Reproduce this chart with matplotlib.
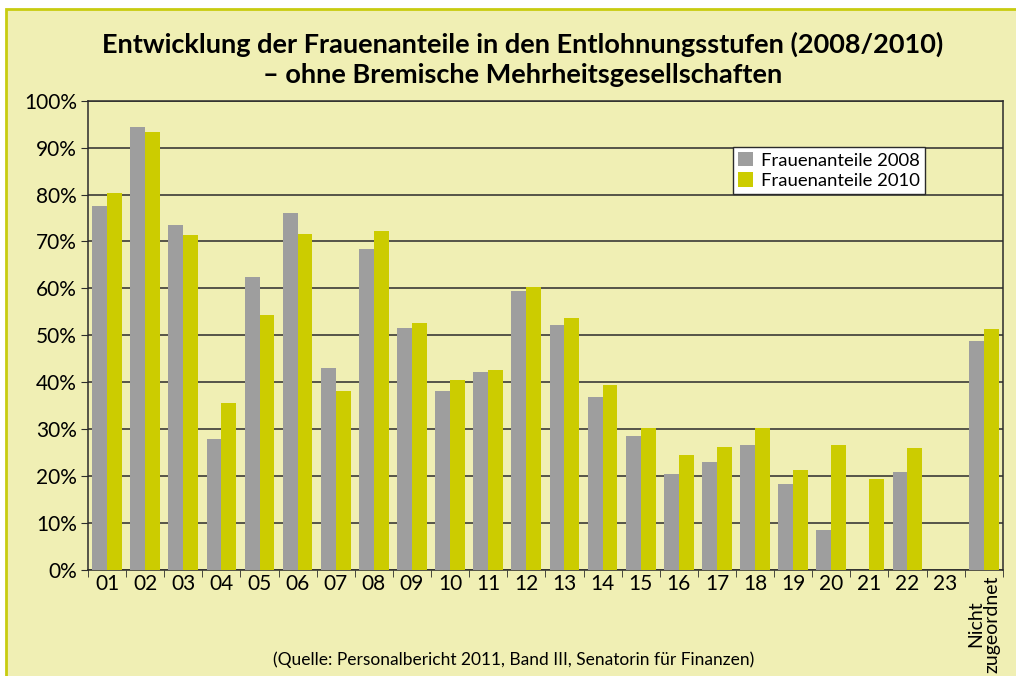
import matplotlib.pyplot as plt
from matplotlib.patches import Rectangle
import numpy as np

plt.rcParams["font.family"] = ["Lato", "DejaVu Sans"]

categories = ["01", "02", "03", "04", "05", "06", "07", "08", "09", "10", "11", "12",
              "13", "14", "15", "16", "17", "18", "19", "20", "21", "22", "23",
              "Nicht\nzugeordnet"]
anteil_2008 = [77.6, 94.3, 73.5, 27.9, 62.4, 76.1, 43.0, 68.4, 51.6, 38.1, 42.1, 59.4,
               52.1, 36.9, 28.6, 20.4, 23.0, 26.6, 18.3, 8.5, 0, 20.8, 0, 48.7]
anteil_2010 = [80.3, 93.3, 71.4, 35.6, 54.3, 71.6, 38.1, 72.2, 52.6, 40.5, 42.5, 60.3,
               53.6, 39.3, 30.3, 24.5, 26.2, 30.3, 21.3, 26.6, 19.4, 26.0, 0, 51.3]

bg = "#F0EFB4"
grey = "#9E9E9E"
yellow = "#CCCC00"

fig = plt.figure(figsize=(10.16, 6.76), dpi=100, facecolor="white")
# chart area box, cut off at right and bottom like in the source
fig.patches.append(Rectangle((6 / 1016, -0.1), 1.2, 1.1 - 9.5 / 676, transform=fig.transFigure,
                             facecolor=bg, edgecolor="#C8CC10", linewidth=2.0, zorder=-1))

ax = fig.add_axes([0.0866, 0.157, 0.9004, 0.694])
ax.set_zorder(2)
ax.set_facecolor(bg)

x = np.arange(len(categories))
w = 0.39
ax.bar(x - w / 2, anteil_2008, w, color=grey, label="Frauenanteile 2008", zorder=3)
ax.bar(x + w / 2, anteil_2010, w, color=yellow, label="Frauenanteile 2010", zorder=3)

ax.set_xlim(-0.5, len(categories) - 0.5)
ax.set_ylim(0, 100)
ax.set_yticks(np.arange(0, 101, 10))
ax.set_yticklabels(["%d%%" % v for v in range(0, 101, 10)], fontsize=15)
ax.grid(axis="y", color="#2b2b2b", linewidth=1.1, zorder=1)

ax.set_xticks(x)
ax.set_xticklabels(categories[:-1] + [""], fontsize=15)
ax.tick_params(axis="x", length=0, pad=3)
ax.set_xticks(np.arange(-0.5, len(categories), 1), minor=True)
ax.tick_params(axis="x", which="minor", length=5, direction="out", color="#2b2b2b")
ax.tick_params(axis="y", length=5, color="#2b2b2b", pad=3)
ax.text(x[-1], -1.2, categories[-1], rotation=90, ha="center", va="top",
        fontsize=14, linespacing=0.95)

for s in ax.spines.values():
    s.set_color("#2b2b2b")
    s.set_linewidth(1.1)

leg = ax.legend(loc="upper left", bbox_to_anchor=(0.705, 0.902), fontsize=13.3,
                frameon=True, fancybox=False, edgecolor="#2b2b2b", framealpha=1,
                handlelength=0.8, handleheight=0.8, handletextpad=0.4,
                borderpad=0.3, labelspacing=0.2, borderaxespad=0)
leg.get_frame().set_linewidth(1.0)

fig.text(0.514, 0.912, "Entwicklung der Frauenanteile in den Entlohnungsstufen (2008/2010)\n"
         "– ohne Bremische Mehrheitsgesellschaften",
         ha="center", va="center", fontsize=19.5, fontweight="bold", linespacing=1.3)
fig.text(0.506, 0.024, "(Quelle: Personalbericht 2011, Band III, Senatorin für Finanzen)",
         ha="center", va="center", fontsize=12.5)

fig.savefig("out.png", dpi=100, facecolor="white")
